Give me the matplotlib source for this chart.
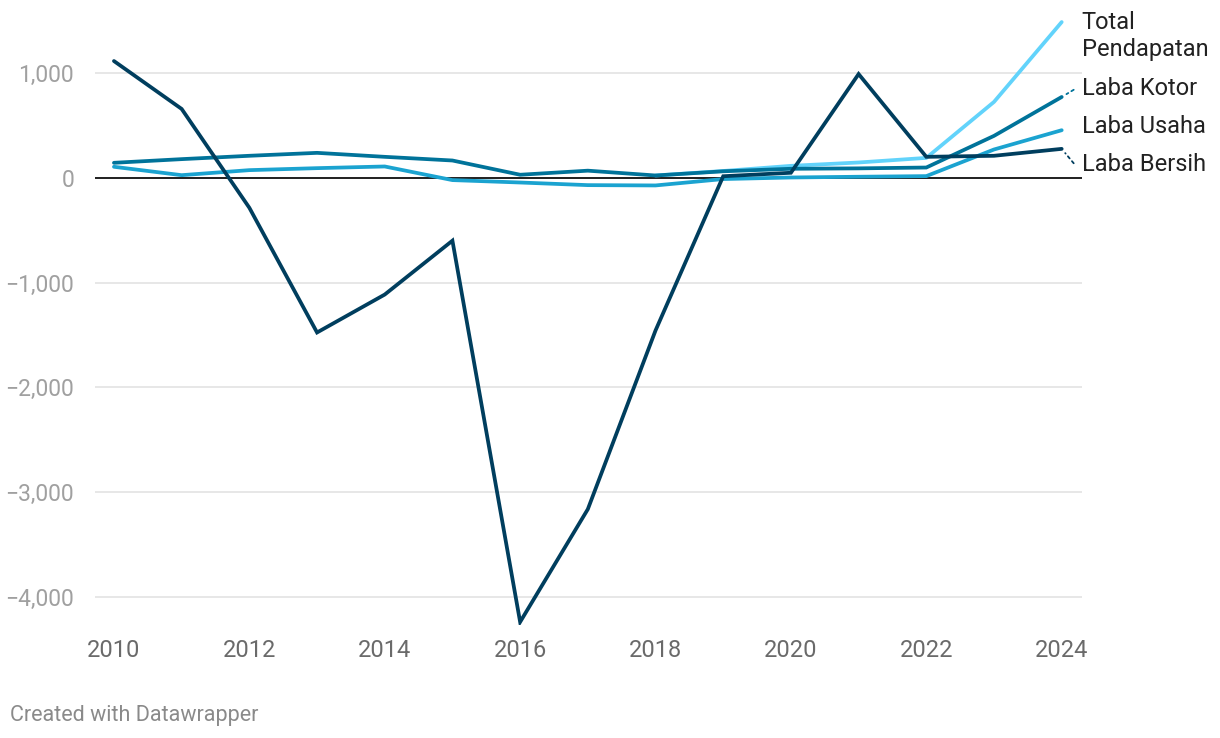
import matplotlib.pyplot as plt
from matplotlib.ticker import FuncFormatter

plt.rcParams['font.family'] = ['Roboto', 'DejaVu Sans']

years = list(range(2010, 2025))
total_years = list(range(2018, 2025))

total_pendapatan = [22, 65, 114, 146, 190, 724, 1486]
laba_kotor = [143, 178, 210, 238, 200, 165, 29, 68, 22, 62, 86, 90, 98, 400, 771]
laba_usaha = [105, 25, 73, 92, 108, -22, -45, -70, -73, -12, 3, 10, 16, 270, 454]
laba_bersih = [1114, 657, -286, -1476, -1114, -600, -4238, -3162, -1457, 15, 48, 990, 200, 210, 276]

series = [
    ("Total\nPendapatan", total_years, total_pendapatan, "#62d3fb", 14, False),
    ("Laba Kotor", years, laba_kotor, "#00739a", -8, True),
    ("Laba Usaha", years, laba_usaha, "#1ba3d0", -4, False),
    ("Laba Bersih", years, laba_bersih, "#003e5e", 16, True),
]

fig = plt.figure(figsize=(12.2, 7.38), dpi=100)
ax = fig.add_axes([95 / 1220, 1 - 625 / 738, (1082 - 95) / 1220, 615 / 738])

for name, xs, ys, color, dy, connector in series:
    ax.plot(xs, ys, color=color, lw=2.7, solid_capstyle='round', solid_joinstyle='miter', zorder=3)
    ax.annotate(name, xy=(xs[-1], ys[-1]), xytext=(20, -dy), textcoords='offset pixels',
                va='center', ha='left', fontsize=17, color='#222222', linespacing=1.2,
                annotation_clip=False)
    if connector:
        ax.annotate('', xy=(xs[-1], ys[-1]), xytext=(12, -dy * 0.9), textcoords='offset pixels',
                    arrowprops=dict(arrowstyle='-', color=color, lw=1.3, linestyle=(0, (1.5, 2)),
                                    shrinkA=0, shrinkB=4), annotation_clip=False)

ax.axhline(0, color='#111111', lw=1.3, zorder=2)
ax.set_xlim(2009.72, 2024.3)
ax.set_ylim(-4267, 1601)
ax.set_yticks([1000, 0, -1000, -2000, -3000, -4000])
ax.set_xticks(list(range(2010, 2025, 2)))
ax.yaxis.set_major_formatter(FuncFormatter(lambda v, p: f"{int(v):,}".replace('-', '\u2212')))
ax.grid(axis='y', color='#e3e3e3', lw=1.2, zorder=1)
ax.tick_params(axis='y', length=0, pad=15, labelsize=16.5, labelcolor='#a0a0a0')
ax.tick_params(axis='x', length=0, pad=10, labelsize=17, labelcolor='#6a6a6a')
for s in ax.spines.values():
    s.set_visible(False)

fig.text(10 / 1220, 1 - 715 / 738, "Created with Datawrapper", fontsize=15.5, color='#8a8a8a',
         va='center', ha='left')

fig.savefig('out.png', dpi=100, facecolor='white')
